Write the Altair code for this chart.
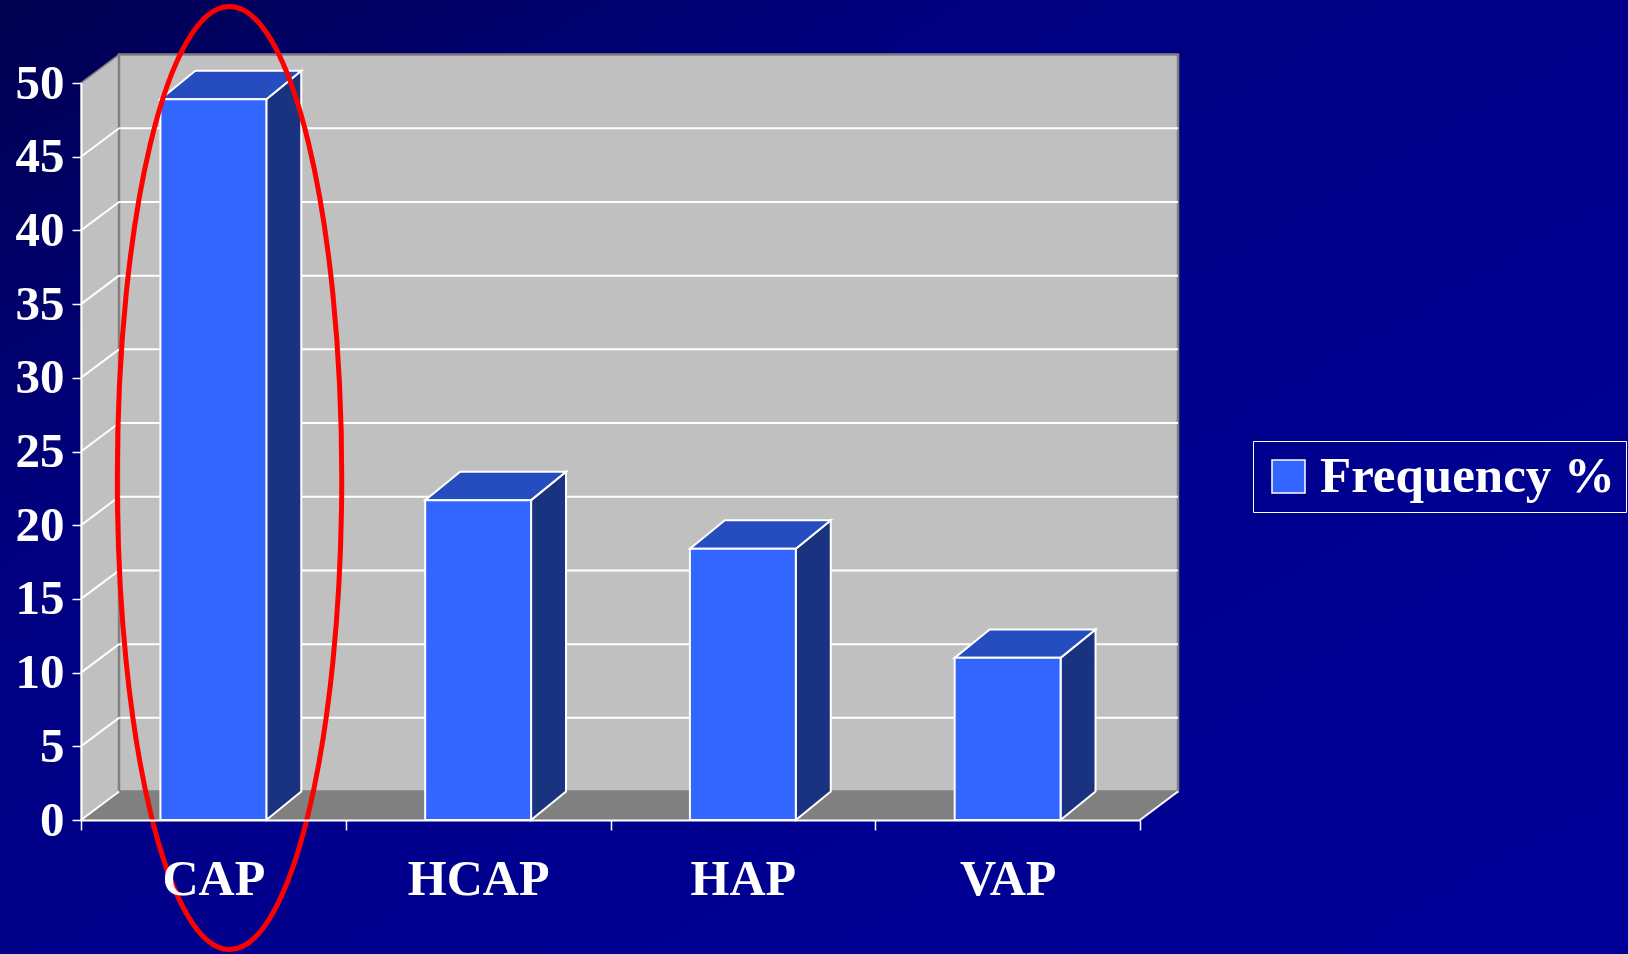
import json
import altair as alt
import pandas as pd

# ---------------- data ----------------
categories = ["CAP", "HCAP", "HAP", "VAP"]
frequency = [48.9, 21.7, 18.4, 11.0]
series_name = "Frequency %"
y_ticks = [0, 5, 10, 15, 20, 25, 30, 35, 40, 45, 50]
grid_values = [5, 10, 15, 20, 25, 30, 35, 40, 45]
# red highlight ellipse around the CAP bar (category units, value units)
ellipse_x = [0.561]
ellipse_y = [23.2]

# ---------------- geometry / style ----------------
N = len(categories)
BAR_HALF = 0.2      # half width of a bar front, in category units
BAR_DX = 0.132      # depth offset of bars (category units)
WALL_DX = 0.1436    # depth offset of walls (category units)
DEPTH_DY = 1.93     # depth offset in value units
YMAX = 50

W, H = 1059, 737
PAD_L, PAD_T = 81, 83
PAD_R, PAD_B = 1628 - PAD_L - W, 954 - PAD_T - H

FONT = "Liberation Serif"
FRONT = "#3366FF"
TOP = "#264DBF"
SIDE = "#1A3380"
WALL = "#C0C0C0"
FLOOR = "#808080"
EDGE = "#808080"

xscale = alt.Scale(domain=[0, N], nice=False, zero=False)
yscale = alt.Scale(domain=[0, YMAX], nice=False, zero=False)

label_expr = json.dumps(categories + [""]) + "[datum.value]"
x_axis = alt.Axis(values=list(range(N + 1)), labelExpr=label_expr, title=None,
                  labelOffset=W / N / 2, labelFontSize=50, labelBaseline="alphabetic",
                  labelPadding=64, tickSize=10, labelOverlap=False, labelBound=False,
                  labelFlush=False, domainWidth=2, tickWidth=1.5, zindex=1)
y_axis = alt.Axis(values=y_ticks, title=None, labelFontSize=49, labelPadding=8,
                  tickSize=9, labelBaseline="middle", domainWidth=2, tickWidth=1.5,
                  zindex=1)


def X(f):
    return alt.X(f, type="quantitative", scale=xscale, axis=x_axis)


def Y(f):
    return alt.Y(f, type="quantitative", scale=yscale, axis=y_axis)


# ---------------- tables built from the arrays ----------------
centers = [i + 0.5 for i in range(N)]
front_df = pd.DataFrame({
    "cat": categories,
    "x": [c - BAR_HALF for c in centers],
    "x2": [c + BAR_HALF for c in centers],
    "v": frequency,
    "y0": [0] * N,
    "series": [series_name] * N,
})

top_rows, side_rows = [], []
for cat, c, v in zip(categories, centers, frequency):
    xl, xr = c - BAR_HALF, c + BAR_HALF
    top_rows += [
        {"cat": cat, "y": v, "x": xl, "x2": xr},
        {"cat": cat, "y": v + DEPTH_DY, "x": xl + BAR_DX, "x2": xr + BAR_DX},
    ]
    side_rows += [
        {"cat": cat, "x": xr, "y": 0, "y2": v},
        {"cat": cat, "x": xr + BAR_DX, "y": DEPTH_DY, "y2": v + DEPTH_DY},
    ]
top_df = pd.DataFrame(top_rows)
side_df = pd.DataFrame(side_rows)

floor_df = pd.DataFrame({"y": [0, DEPTH_DY], "x": [0, WALL_DX], "x2": [N, N + WALL_DX], "k": ["f", "f"]})
left_df = pd.DataFrame({"x": [0, WALL_DX], "y": [0, DEPTH_DY], "y2": [YMAX, YMAX + DEPTH_DY], "k": ["l", "l"]})
back_df = pd.DataFrame({"x": [WALL_DX], "x2": [N + WALL_DX], "y": [DEPTH_DY], "y2": [YMAX + DEPTH_DY]})
grid_df = pd.DataFrame({"x": [WALL_DX] * len(grid_values), "x2": [N + WALL_DX] * len(grid_values),
                        "y": [g + DEPTH_DY for g in grid_values]})
diag_vals = [0] + grid_values
diag_df = pd.DataFrame({"x": [0] * len(diag_vals), "x2": [WALL_DX] * len(diag_vals),
                        "y": diag_vals, "y2": [g + DEPTH_DY for g in diag_vals]})
rdiag_df = pd.DataFrame({"x": [N], "x2": [N + WALL_DX], "y": [0], "y2": [DEPTH_DY]})
ell_df = pd.DataFrame({"x": ellipse_x, "y": ellipse_y})

# ---------------- layers ----------------
bg = alt.Chart(pd.DataFrame({"a": [0]})).mark_rect(
    color=alt.Gradient(gradient="linear", x1=0, y1=0, x2=1, y2=1,
                       stops=[alt.GradientStop(color="#000050", offset=0),
                              alt.GradientStop(color="#000080", offset=0.3),
                              alt.GradientStop(color="#00008E", offset=0.6),
                              alt.GradientStop(color="#000098", offset=1)])
).encode(x=alt.value(-PAD_L), x2=alt.value(W + PAD_R), y=alt.value(-PAD_T), y2=alt.value(H + PAD_B))

left_wall = alt.Chart(left_df).mark_area(orient="vertical", color=WALL, stroke=EDGE, strokeWidth=1.5).encode(
    x=X("x"), y=Y("y"), y2="y2", detail="k:N")
back_wall = alt.Chart(back_df).mark_rect(color=WALL, stroke=EDGE, strokeWidth=2.5).encode(
    x=X("x"), x2="x2", y=Y("y"), y2="y2")
grid = alt.Chart(grid_df).mark_rule(color="white", strokeWidth=2).encode(
    x=X("x"), x2="x2", y=Y("y"))
floor = alt.Chart(floor_df).mark_area(orient="horizontal", color=FLOOR).encode(
    y=Y("y"), x=X("x"), x2="x2", detail="k:N")
diag = alt.Chart(diag_df).mark_rule(color="white", strokeWidth=2).encode(
    x=X("x"), x2="x2", y=Y("y"), y2="y2")
rdiag = alt.Chart(rdiag_df).mark_rule(color="white", strokeWidth=2).encode(
    x=X("x"), x2="x2", y=Y("y"), y2="y2")

side = alt.Chart(side_df).mark_area(orient="vertical", color=SIDE, stroke="white", strokeWidth=2).encode(
    x=X("x"), y=Y("y"), y2="y2", detail="cat:N")
top = alt.Chart(top_df).mark_area(orient="horizontal", color=TOP, stroke="white", strokeWidth=2).encode(
    y=Y("y"), x=X("x"), x2="x2", detail="cat:N")
front = alt.Chart(front_df).mark_rect(stroke="white", strokeWidth=2).encode(
    x=X("x"), x2="x2", y=Y("v"), y2="y0",
    color=alt.Color("series:N", scale=alt.Scale(range=[FRONT]),
                    legend=alt.Legend(title=None, orient="none", legendX=1172, legendY=358,
                                      symbolType="square", symbolSize=1089,
                                      symbolStrokeColor="white", symbolStrokeWidth=1.5,
                                      labelFont=FONT, labelFontSize=51, labelFontWeight="bold",
                                      labelColor="white", labelOffset=6, labelLimit=500,
                                      padding=10, strokeColor="white")),
)

a = 0.238
k = 0.5523
ka = round(k * a, 4)
ell_path = (f"M0,-1 C{ka},-1 {a},-{k} {a},0 C{a},{k} {ka},1 0,1 "
            f"C-{ka},1 -{a},{k} -{a},0 C-{a},-{k} -{ka},-1 0,-1 Z")
ellipse = alt.Chart(ell_df).mark_point(shape=ell_path, size=889249, filled=False, stroke="#FF0000",
                                       strokeWidth=5, opacity=1).encode(x=X("x"), y=Y("y"))

chart = alt.layer(bg, left_wall, back_wall, grid, floor, diag, rdiag, side, top, front, ellipse).properties(
    width=W, height=H,
    autosize=alt.AutoSizeParams(type="none"),
    padding={"left": PAD_L, "top": PAD_T, "right": PAD_R, "bottom": PAD_B},
    background="#000088",
).configure_view(strokeWidth=0).configure_axis(
    domainColor="white", tickColor="white", labelColor="white", labelFont=FONT,
    labelFontWeight="bold", grid=False,
)

chart.save("out.html", embed_options={"renderer": "svg", "actions": False})
